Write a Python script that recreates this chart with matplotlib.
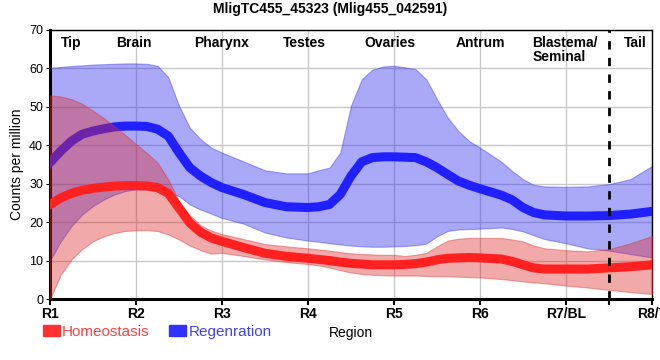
import matplotlib.pyplot as plt
from matplotlib.patches import Patch

# positions along the body axis (R1 = 0 ... R8/T = 7); finer steps where the curves bend
pos = [0, 0.125, 0.25, 0.375, 0.5, 0.625, 0.75, 0.875, 1, 1.125, 1.25, 1.375, 1.5, 1.625, 1.75, 1.875,
       2, 2.25, 2.5, 2.75,
       3, 3.125, 3.25, 3.375, 3.5, 3.625, 3.75, 3.875, 4, 4.125, 4.25, 4.375, 4.5, 4.625, 4.75, 4.875,
       5, 5.25, 5.375, 5.5, 5.625, 5.75, 6, 6.25, 6.5, 6.75, 7]

hom_mean = [24.6, 26.3, 27.5, 28.3, 28.8, 29.1, 29.4, 29.5, 29.5, 29.4, 29.0, 27.5, 23.7, 19.8, 17.4, 15.9,
            15.0, 13.4, 11.9, 11.1,
            10.6, 10.3, 10.0, 9.6, 9.3, 9.1, 8.9, 8.9, 8.9, 9.0, 9.2, 9.6, 10.2, 10.6, 10.7, 10.8,
            10.7, 10.4, 9.8, 8.9, 8.1, 7.8, 7.8, 7.8, 8.1, 8.4, 8.9]
hom_upper = [53.0, 52.7, 52.0, 50.8, 49.0, 47.1, 44.9, 42.7, 40.3, 38.0, 35.5, 31.1, 25.5, 21.8, 19.2, 17.8,
             16.9, 15.6, 14.3, 13.7,
             13.2, 12.9, 12.6, 12.2, 11.9, 11.7, 11.6, 11.5, 11.5, 11.2, 11.5, 12.0, 13.7, 15.2, 15.7, 15.9,
             15.9, 15.9, 15.5, 15.0, 13.9, 13.2, 12.7, 12.4, 13.0, 14.5, 16.4]
hom_lower = [0.0, 6.3, 10.3, 13.0, 15.0, 16.3, 17.2, 17.7, 17.9, 17.9, 17.7, 16.8, 15.5, 13.9, 12.7, 11.8,
             12.0, 11.2, 10.3, 9.6,
             9.1, 8.7, 8.2, 7.5, 6.9, 6.5, 6.3, 6.2, 6.1, 6.1, 6.1, 6.0, 5.9, 5.9, 5.8, 5.7,
             5.6, 5.2, 4.9, 4.6, 4.3, 4.1, 3.5, 3.0, 2.4, 1.8, 1.3]

reg_mean = [35.5, 38.5, 41.1, 42.9, 43.7, 44.3, 44.8, 45.0, 45.0, 44.9, 44.2, 42.4, 38.1, 34.2, 32.0, 30.3,
            29.0, 27.2, 25.1, 24.0,
            23.8, 24.0, 24.6, 27.2, 32.0, 35.7, 36.8, 37.0, 37.0, 36.9, 36.8, 35.7, 34.2, 32.4, 30.7, 29.6,
            28.7, 27.0, 25.8, 23.8, 22.5, 21.9, 21.6, 21.6, 21.7, 22.1, 22.8]
reg_upper = [60.1, 60.4, 60.6, 60.8, 61.0, 61.1, 61.2, 61.3, 61.3, 61.2, 60.7, 57.7, 50.3, 44.6, 41.6, 39.4,
             38.1, 35.8, 33.5, 32.7,
             32.7, 33.5, 34.2, 38.1, 50.3, 57.2, 59.7, 60.5, 60.7, 60.3, 59.8, 57.2, 52.0, 47.2, 43.7, 41.1,
             39.4, 35.7, 33.3, 31.2, 29.7, 29.3, 29.2, 29.3, 29.9, 31.2, 34.6]
reg_lower = [10.0, 15.0, 19.0, 22.0, 24.2, 25.9, 27.2, 28.1, 28.5, 28.5, 28.2, 27.6, 26.8, 24.6, 23.3, 22.2,
             21.1, 19.6, 17.3, 16.0,
             15.2, 14.9, 14.5, 14.2, 13.9, 13.7, 13.6, 13.6, 13.7, 13.8, 14.0, 14.4, 16.3, 17.7, 18.1, 18.2,
             18.3, 18.6, 18.2, 17.6, 16.6, 15.6, 14.5, 13.2, 12.6, 11.7, 10.8]

tick_labels = ['R1', 'R2', 'R3', 'R4', 'R5', 'R6', 'R7/BL', 'R8/T']
regions = ['Tip', 'Brain', 'Pharynx', 'Testes', 'Ovaries', 'Antrum', 'Blastema/\nSeminal', 'Tail']
region_x = [0.24, 0.98, 2.0, 2.96, 3.95, 5.0, 5.99, 6.8]
blastema_cut = 6.5

narrow = ['Liberation Sans Narrow', 'Liberation Sans', 'DejaVu Sans']
plt.rcParams['font.family'] = ['Liberation Sans', 'DejaVu Sans']

fig = plt.figure(figsize=(6.6, 3.6), dpi=100)
ax = fig.add_axes([0.0758, 0.1694, 0.912, 0.7473])

ax.fill_between(pos, reg_lower, reg_upper, color='#2a2aee', alpha=0.4, lw=0.8, zorder=2)
ax.plot(pos, reg_mean, color='#2020ff', lw=6.5, solid_joinstyle='round', zorder=3)
ax.fill_between(pos, hom_lower, hom_upper, color='#dc2a2a', alpha=0.4, lw=0.8, zorder=4)
ax.plot(pos, hom_mean, color='#ff2020', lw=6.5, solid_joinstyle='round', zorder=5)

ax.axvline(blastema_cut, color='black', lw=2, ls=(0, (3, 3)), zorder=6)

for x, name in zip(region_x, regions):
    ax.text(x, 68.5, name, ha='center', va='top', multialignment='left', fontsize=10,
            fontweight='bold', linespacing=1.0, zorder=7)

ax.set_xlim(0, 7)
ax.set_ylim(0, 70)
ax.set_xticks(range(8))
ax.set_xticks([blastema_cut], minor=True)
ax.set_xticklabels(tick_labels, fontweight='bold', fontsize=10, family=narrow)
ax.set_yticks(range(0, 71, 10))
ax.tick_params(axis='y', labelsize=9, length=3, pad=2)
ax.tick_params(axis='x', which='both', length=4, width=1.5, pad=2)
ax.grid(True, color='#c8c8c8', lw=1, zorder=0)
ax.set_axisbelow(True)

for side in ['left', 'bottom']:
    ax.spines[side].set_linewidth(2.2)
for side in ['top', 'right']:
    ax.spines[side].set_linewidth(1)

ax.set_ylabel('Counts per million', fontsize=10, labelpad=4)
ax.set_xlabel('Region', fontsize=10, labelpad=3)

fig.suptitle('MligTC455_45323 (Mlig455_042591)', y=0.995, fontsize=10, fontweight='bold',
             family=narrow)

handles = [Patch(color='#ff3030'), Patch(color='#3030ff')]
leg = fig.legend(handles, ['Homeostasis', 'Regenration'], loc='lower left',
                 bbox_to_anchor=(0.044, 0.021), ncol=2, frameon=False,
                 handlelength=1.1, handleheight=0.7, handletextpad=0.15, columnspacing=1.3,
                 prop={'family': narrow, 'size': 11})
for text, c in zip(leg.get_texts(), ['#ff4040', '#4040ff']):
    text.set_color(c)

fig.savefig('out.png', dpi=100)
